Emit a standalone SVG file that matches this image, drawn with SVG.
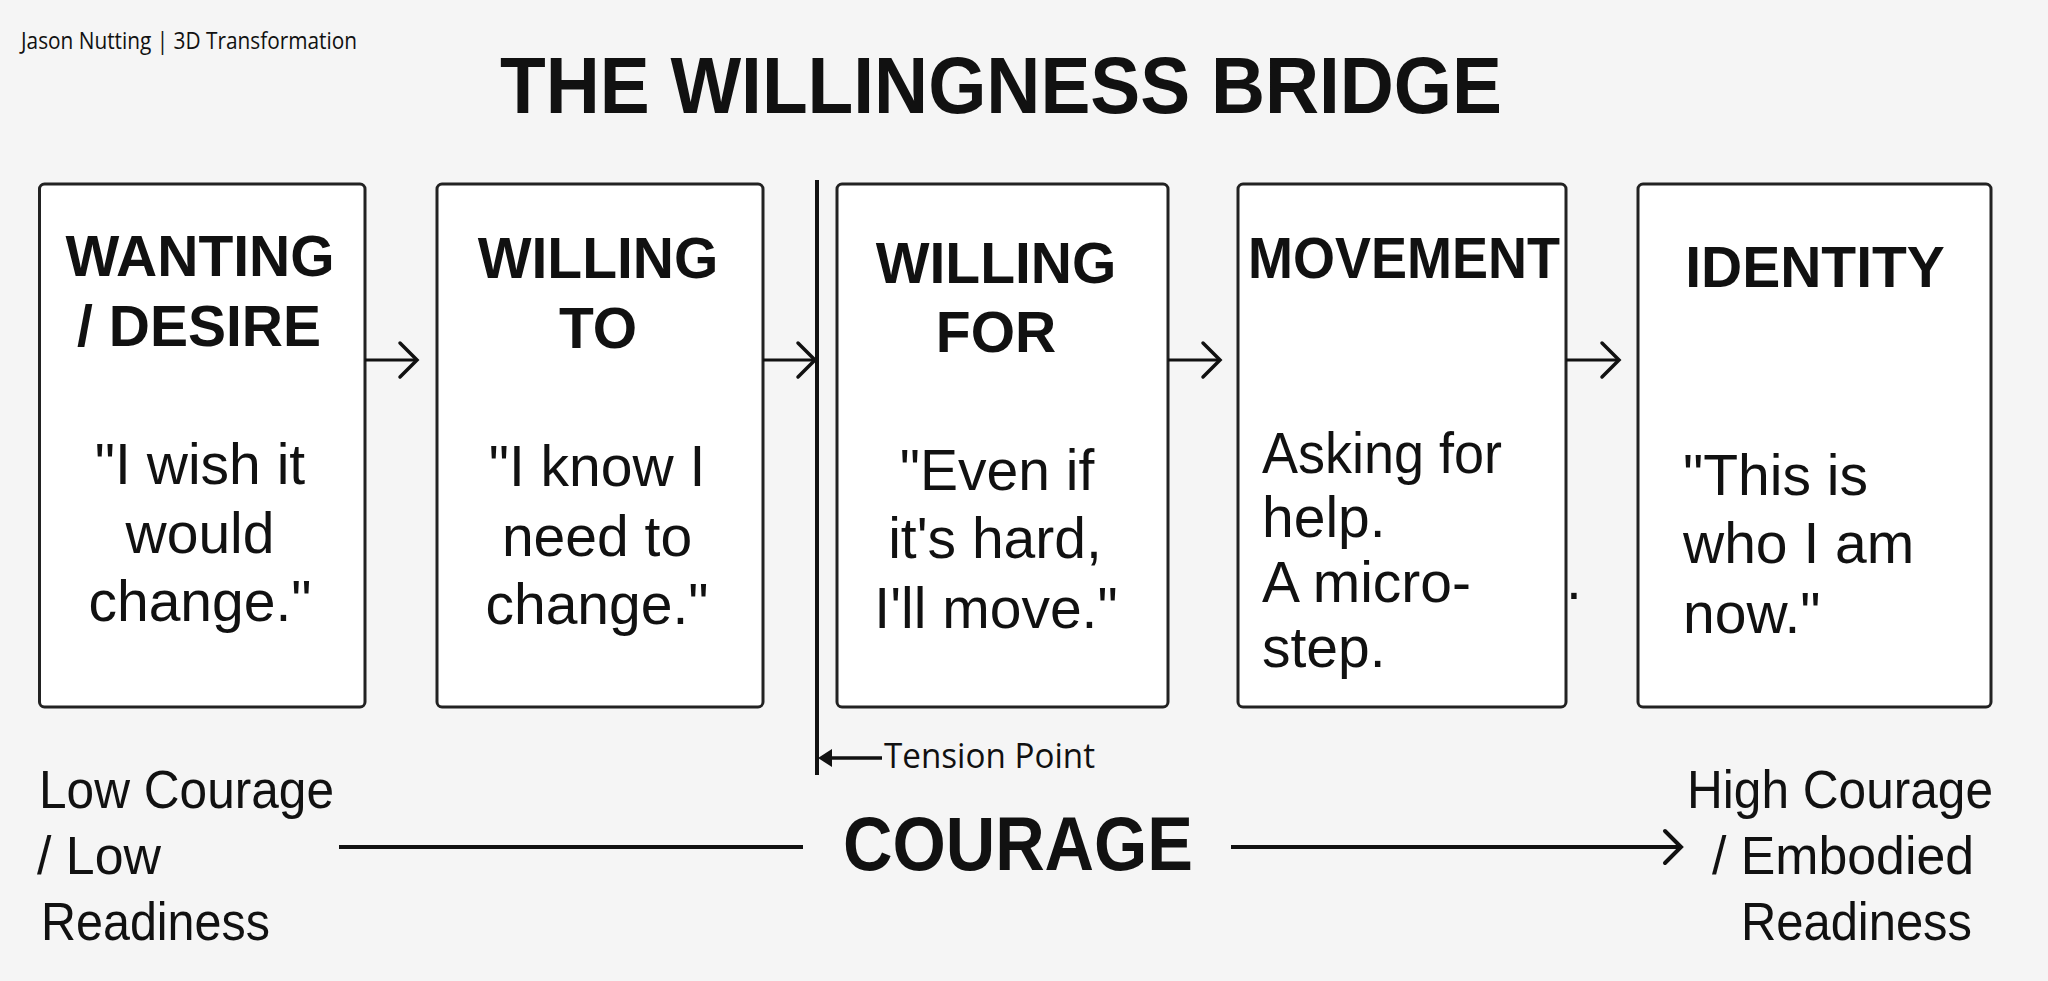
<svg xmlns="http://www.w3.org/2000/svg" width="2048" height="981" viewBox="0 0 2048 981">
<style>
.box{fill:#ffffff;stroke:#222222;stroke-width:3}
.hd{font-family:"Liberation Sans",Arial,sans-serif;font-weight:bold;font-size:57px;fill:#111;text-anchor:middle}
.qt{font-family:"Liberation Sans",Arial,sans-serif;font-size:57px;fill:#111;text-anchor:middle}
.bl{font-family:"Liberation Sans",Arial,sans-serif;font-size:57px;fill:#111}
.ax{font-family:"Liberation Sans",Arial,sans-serif;font-size:53px;fill:#111}
.ln{stroke:#111;stroke-width:3;fill:none}
.chev{stroke:#111;stroke-width:3.5;fill:none;stroke-linecap:round;stroke-linejoin:miter}
</style>
<rect x="0" y="0" width="2048" height="981" fill="#f5f5f5"/>
<text x="21" y="49" font-family="'Open Sans','Liberation Sans',sans-serif" font-size="24" fill="#111" textLength="336" lengthAdjust="spacingAndGlyphs">Jason Nutting | 3D Transformation</text>
<text x="500" y="113" font-family="'Liberation Sans',Arial,sans-serif" font-weight="bold" font-size="80" fill="#111" textLength="1002" lengthAdjust="spacingAndGlyphs">THE WILLINGNESS BRIDGE</text>

<g id="node-wanting">
<rect class="box" x="39.5" y="184" width="325.5" height="523" rx="5"/>
<text class="hd" x="200" y="276">WANTING</text>
<text class="hd" x="199" y="346">/ DESIRE</text>
<text class="qt" x="200" y="484">"I wish it</text>
<text class="qt" x="200" y="553">would</text>
<text class="qt" x="200" y="621">change."</text>
</g>

<g id="node-willing-to">
<rect class="box" x="437" y="184" width="326" height="523" rx="5"/>
<text class="hd" x="598" y="278">WILLING</text>
<text class="hd" x="598" y="348">TO</text>
<text class="qt" x="597" y="486">"I know I</text>
<text class="qt" x="597" y="556">need to</text>
<text class="qt" x="597" y="624">change."</text>
</g>

<g id="node-willing-for">
<rect class="box" x="837" y="184" width="331" height="523" rx="5"/>
<text class="hd" x="996" y="283">WILLING</text>
<text class="hd" x="996" y="352">FOR</text>
<text class="qt" x="997" y="490">"Even if</text>
<text class="qt" x="995" y="558">it's hard,</text>
<text class="qt" x="996" y="628">I'll move."</text>
</g>

<g id="node-movement">
<rect class="box" x="1238" y="184" width="328" height="523" rx="5"/>
<text class="hd" x="1404" y="278" textLength="312" lengthAdjust="spacingAndGlyphs">MOVEMENT</text>
<text class="bl" x="1262" y="473" font-size="51" textLength="240" lengthAdjust="spacingAndGlyphs">Asking for</text>
<text class="bl" x="1262" y="537" font-size="51">help.</text>
<text class="bl" x="1262" y="602" font-size="51">A micro-</text>
<text class="bl" x="1262" y="667" font-size="51">step.</text>
<text class="bl" x="1566" y="599" font-size="40">.</text>
</g>

<g id="node-identity">
<rect class="box" x="1638" y="184" width="353" height="523" rx="5"/>
<text class="hd" x="1815" y="287">IDENTITY</text>
<text class="bl" x="1683" y="495">"This is</text>
<text class="bl" x="1683" y="563">who I am</text>
<text class="bl" x="1683" y="633">now."</text>
</g>

<g id="tension-point">
<line x1="817" y1="180" x2="817" y2="775" stroke="#111" stroke-width="4"/>
<line x1="828" y1="758" x2="882" y2="758" stroke="#111" stroke-width="3.5"/>
<polygon points="818,758 832,749 832,767" fill="#111"/>
<text x="884" y="768" font-family="'Open Sans','Liberation Sans',sans-serif" font-size="35" fill="#111" textLength="211" lengthAdjust="spacingAndGlyphs">Tension Point</text>
</g>

<g id="connectors">
<line class="ln" x1="365" y1="360" x2="416" y2="360"/>
<polyline class="chev" points="400,343 417,360 400,377"/>
<line class="ln" x1="763" y1="360" x2="814" y2="360"/>
<polyline class="chev" points="798,343 815,360 798,377"/>
<line class="ln" x1="1168" y1="360" x2="1219" y2="360"/>
<polyline class="chev" points="1203,343 1220,360 1203,377"/>
<line class="ln" x1="1566" y1="360" x2="1618" y2="360"/>
<polyline class="chev" points="1602,343 1619,360 1602,377"/>
</g>

<g id="courage-axis">
<text class="ax" x="39" y="808" textLength="295" lengthAdjust="spacingAndGlyphs">Low Courage</text>
<text class="ax" x="37" y="874" textLength="124" lengthAdjust="spacingAndGlyphs">/ Low</text>
<text class="ax" x="41" y="940" textLength="229" lengthAdjust="spacingAndGlyphs">Readiness</text>
<line x1="339" y1="847" x2="803" y2="847" stroke="#111" stroke-width="4"/>
<text x="843" y="870" font-family="'Liberation Sans',Arial,sans-serif" font-weight="bold" font-size="76" fill="#111" textLength="350" lengthAdjust="spacingAndGlyphs">COURAGE</text>
<line x1="1231" y1="847" x2="1679" y2="847" stroke="#111" stroke-width="4"/>
<polyline points="1665,831 1681,847 1665,863" fill="none" stroke="#111" stroke-width="4" stroke-linecap="round"/>
<text class="ax" x="1687" y="808" textLength="306" lengthAdjust="spacingAndGlyphs">High Courage</text>
<text class="ax" x="1712" y="874" textLength="262" lengthAdjust="spacingAndGlyphs">/ Embodied</text>
<text class="ax" x="1741" y="940" textLength="231" lengthAdjust="spacingAndGlyphs">Readiness</text>
</g>
</svg>
